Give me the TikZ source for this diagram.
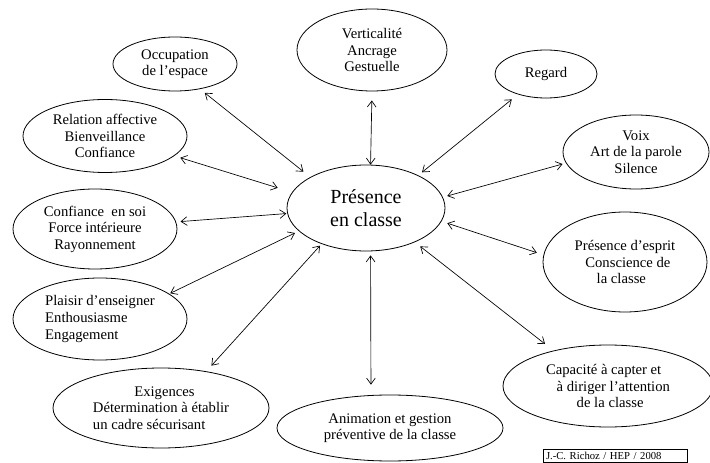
\documentclass[tikz,border=0pt]{standalone}
\usepackage{fontspec}
\setmainfont{Liberation Serif}
\usetikzlibrary{arrows.meta,shapes.geometric}

\begin{document}
\begin{tikzpicture}[
    x=0.75pt, y=-0.75pt,
    bubble/.style={draw, ellipse, inner sep=0pt, line width=0.6pt, font=\fontsize{11}{12.4}\selectfont},
    link/.style={{Straight Barb[length=4.5pt,width=6.5pt]}-{Straight Barb[length=4.5pt,width=6.5pt]}, line width=0.5pt}
]
    \useasboundingbox (0,0) rectangle (710,463);
    % centre
    \node[bubble, minimum width=118.5pt, minimum height=64.5pt, align=center,
          font=\fontsize{15}{17.3}\selectfont] (ctr) at (366,208) {Présence\\en classe};
    % ring of bubbles
    \node[bubble, minimum width=112.5pt, minimum height=61.5pt, align=center] (vert) at (372,50) {Verticalité\\Ancrage\\Gestuelle};
    \node[bubble, minimum width=93pt, minimum height=40.5pt, align=center] (occ) at (175,64) {Occupation\\de l’espace};
    \node[bubble, minimum width=76.5pt, minimum height=36pt, align=center] (reg) at (546,74) {Regard};
    \node[bubble, minimum width=123pt, minimum height=54.75pt, align=center] (rel) at (105,136) {Relation affective\\Bienveillance\\Confiance};
    \node[bubble, minimum width=109.5pt, minimum height=55.5pt, align=center] (voix) at (636,152) {Voix\\Art de la parole\\Silence};
    \node[bubble, minimum width=123pt, minimum height=60pt, align=center] (conf) at (95,229) {Confiance\ \ en soi\\Force intérieure\\Rayonnement};
    \node[bubble, minimum width=123pt, minimum height=75pt, align=left] (esp) at (625,262) {Présence d’esprit\\\hspace*{8pt}Conscience de\\\hspace*{16.5pt}la classe};
    \node[bubble, minimum width=130.5pt, minimum height=61.5pt, align=left] (plai) at (100,319) {Plaisir d’enseigner\\Enthousiasme\\Engagement};
    \node[bubble, minimum width=157.5pt, minimum height=61.5pt, align=left] (capa) at (608,386) {Capacité à capter et\\\hspace*{8pt}à diriger l’attention\\\hspace*{23pt}de la classe};
    \node[bubble, minimum width=162pt, minimum height=60pt, align=left] (exig) at (161,408) {\hspace*{31pt}Exigences\\Détermination à établir\\un cadre sécurisant};
    \node[bubble, minimum width=169.5pt, minimum height=49.5pt, align=center] (anim) at (390,428) {Animation et gestion\\préventive de la classe};

    % links to the centre
    \draw[link, shorten <=6.8pt, shorten >=0pt] (vert.south) -- (ctr.84);
    \draw[link, shorten <=4.5pt, shorten >=6.5pt] (occ.-45) -- (ctr.151);
    \draw[link, shorten <=5.9pt, shorten >=3.6pt] (reg.216) -- (ctr.32);
    \draw[link, shorten <=4.6pt, shorten >=11.2pt] (rel.-16) -- (ctr.168);
    \draw[link, shorten <=2.6pt, shorten >=3.4pt] (voix.189) -- (ctr.8);
    \draw[link, shorten <=3.3pt, shorten >=0.7pt] (conf.5) -- (ctr.184);
    \draw[link, shorten <=5.2pt, shorten >=4.5pt] (esp.175) -- (ctr.-10);
    \draw[link, shorten <=0.8pt, shorten >=3.2pt] (plai.20) -- (ctr.199);
    \draw[link, shorten <=8pt, shorten >=5.1pt] (capa.147) -- (ctr.-35);
    \draw[link, shorten <=5.7pt, shorten >=1.7pt] (exig.39) -- (ctr.219);
    \draw[link, shorten <=7.8pt, shorten >=3pt] (anim.120) -- (ctr.276);

    % signature, its box cut by the page edge
    \begin{scope}
        \clip (0,0) rectangle (710,463);
        \node[draw, line width=0.5pt, anchor=north west, text width=104pt, align=left,
              inner xsep=2pt, inner ysep=2pt, font=\fontsize{8}{9}\selectfont] (sig) at (543,449) {J.-C. Richoz / HEP / 2008};
    \end{scope}
\end{tikzpicture}
\end{document}
